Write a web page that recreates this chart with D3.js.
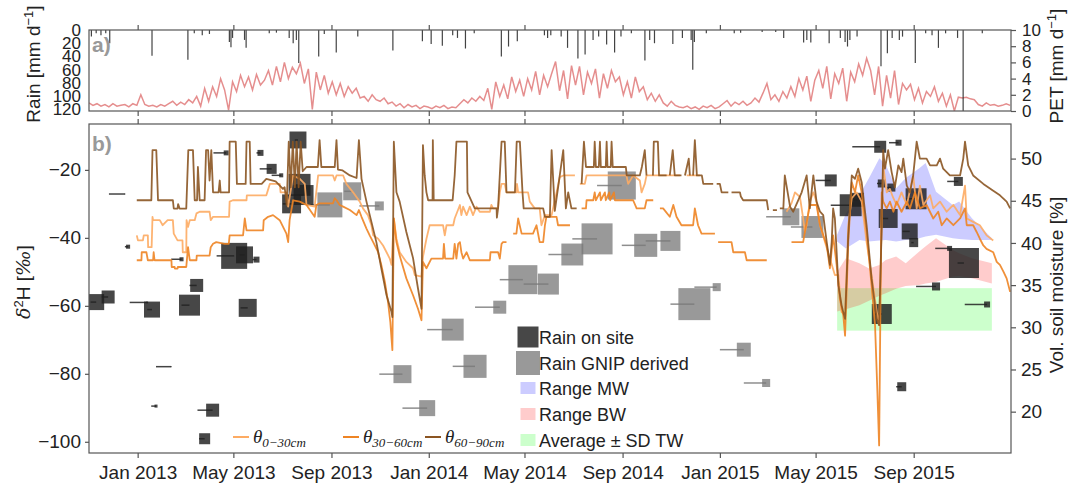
<!DOCTYPE html>
<html>
<head>
<meta charset="utf-8">
<script src="https://cdn.jsdelivr.net/npm/d3@7"></script>
<style>
  body { margin: 0; background: #fff; }
  text { font-family: "Liberation Sans", Arial, sans-serif; }
</style>
</head>
<body>
<div id="chart"></div>
<script>
// ---- data ----
const xTicks = ["2013-01-01","2013-05-01","2013-09-01","2014-01-01","2014-05-01","2014-09-01","2015-01-01","2015-05-01","2015-09-01"];
const xTickLabels = ["Jan 2013","May 2013","Sep 2013","Jan 2014","May 2014","Sep 2014","Jan 2015","May 2015","Sep 2015"];
const rainTicks = [0, 20, 40, 60, 80, 100, 120];
const petTicks = [0, 2, 4, 6, 8, 10];
const isoTicks = [-100, -80, -60, -40, -20];
const soilTicks = [20, 25, 30, 35, 40, 45, 50];

// PET [mm/d], one value every 5 days from 2012-11-01
const petStart = "2012-11-01", petStepDays = 5;
const petValues = [1.0,0.7,0.9,0.6,0.8,0.5,0.9,0.6,0.7,0.8,0.5,0.9,0.7,2.0,0.8,0.6,0.7,0.5,0.8,0.6,
  0.9,1.2,0.7,1.1,0.8,1.4,1.0,1.8,0.6,2.8,1.2,3.0,1.8,4.0,2.6,0.1,3.6,2.4,4.4,3.0,4.2,2.6,4.5,3.2,3.8,
  5.0,3.2,5.5,3.6,6.0,4.0,5.4,4.6,5.9,3.4,5.2,0.2,4.8,2.6,4.4,2.2,3.6,2.0,3.4,1.8,3.0,2.2,2.8,1.6,
  1.8,1.2,2.0,1.4,1.2,1.6,0.9,1.1,0.6,0.9,0.4,0.8,0.5,0.7,0.3,0.6,0.5,0.3,0.6,0.4,0.7,0.3,0.5,0.4,
  0.9,1.4,1.0,1.6,1.2,1.8,1.3,2.8,0.2,3.6,1.8,3.2,1.5,4.2,2.4,3.8,1.8,4.0,2.6,4.9,2.0,4.4,3.0,4.6,
  6.1,2.5,5.0,1.5,5.6,3.2,5.5,2.0,4.8,3.4,5.2,1.6,4.6,2.8,5.0,3.6,4.2,2.0,3.6,1.6,4.2,2.4,3.0,1.4,2.2,1.2,2.0,
  1.0,0.6,1.2,0.7,0.5,0.4,0.6,0.3,0.5,0.2,0.6,0.4,0.7,0.3,0.5,0.9,1.3,0.6,1.1,0.8,1.2,0.7,1.0,
  1.6,1.1,2.2,3.4,1.4,2.0,1.2,2.4,1.6,3.0,1.8,4.0,2.6,4.3,1.2,3.8,5.0,2.8,5.5,1.5,4.6,3.4,5.3,1.2,4.8,3.6,
  5.8,4.4,6.5,5.0,2.0,5.5,0.6,4.4,1.6,5.0,0.8,3.4,2.6,3.3,1.4,2.8,1.0,2.4,1.8,3.0,1.2,2.2,0.6,
  2.0,0.0,1.7,1.6,1.7,1.5,1.4,0.8,0.6,1.0,0.7,0.8,0.6,0.7,0.9,0.7];

// daily rain events [date, mm]
const rainEvents = [
  ["2012-11-04",10],["2012-11-10",5],["2012-11-16",8],["2012-11-22",5],["2012-11-27",20],
  ["2013-01-19",39],["2013-03-05",45],["2013-03-13",5],["2013-03-23",8],["2013-04-01",6],
  ["2013-04-26",18],["2013-04-28",26],["2013-04-30",12],["2013-05-15",15],["2013-05-17",27],
  ["2013-06-15",5],["2013-06-24",4],["2013-07-10",12],["2013-07-15",20],["2013-07-19",15],
  ["2013-07-22",50],["2013-08-16",40],["2013-08-23",6],["2013-09-07",34],["2013-10-04",10],
  ["2013-11-17",31],["2013-12-24",17],["2014-01-04",21],["2014-01-18",24],["2014-01-31",8],
  ["2014-02-06",12],["2014-02-16",28],["2014-02-27",5],["2014-04-02",40],["2014-04-11",25],
  ["2014-04-22",17],["2014-05-26",8],["2014-05-30",12],["2014-06-03",8],["2014-06-16",10],
  ["2014-06-24",27],["2014-07-07",43],["2014-07-16",37],["2014-07-26",15],["2014-08-02",10],
  ["2014-08-12",22],["2014-08-22",34],["2014-08-30",10],["2014-09-12",5],["2014-09-29",46],
  ["2014-10-05",15],["2014-10-11",20],["2014-11-03",21],["2014-11-15",12],["2014-11-26",15],
  ["2014-11-28",60],["2014-11-30",18],["2014-12-15",5],["2015-01-19",5],["2015-01-27",4],
  ["2015-02-23",3],["2015-03-12",3],["2015-03-22",12],["2015-04-16",19],["2015-04-20",15],
  ["2015-04-25",19],["2015-05-18",20],["2015-06-01",12],["2015-06-07",18],["2015-06-10",25],
  ["2015-06-13",15],["2015-06-22",10],["2015-07-22",55],["2015-07-30",35],["2015-08-05",12],
  ["2015-08-14",15],["2015-08-18",10],["2015-09-03",50],["2015-09-16",5],["2015-09-24",8],
  ["2015-10-02",27],["2015-10-11",5],["2015-10-26",12],["2015-11-02",125],["2015-11-26",5]
];

// isotope samples [start, end, d2H, rain amount mm]
const isoOnSite = [
  ["2012-11-03","2012-11-10",-58.9,25],["2012-11-17","2012-11-25",-57.4,16.5],
  ["2012-11-26","2012-12-16",-27.1,0.1],["2012-12-16","2012-12-20",-42.6,1.6],
  ["2012-12-22","2013-01-13",-59.0,0.3],["2013-01-13","2013-01-19",-61.1,25],
  ["2013-01-24","2013-02-12",-77.9,0.1],["2013-01-18","2013-01-24",-89.5,0.9],
  ["2013-02-12","2013-02-25",-46.3,1.6],["2013-02-25","2013-03-07",-59.8,43],
  ["2013-03-07","2013-03-16",-54.0,16.5],["2013-03-19","2013-03-26",-99.1,11.8],
  ["2013-03-17","2013-04-05",-90.7,16.5],["2013-04-10","2013-05-02",-45.3,66],
  ["2013-05-09","2013-05-15",-45.0,28],["2013-05-25","2013-05-30",-46.4,3.5],
  ["2013-05-10","2013-05-19",-60.6,31.6],["2013-04-06","2013-04-22",-15.0,2.4],
  ["2013-05-30","2013-06-04",-15.0,3.5],["2013-06-03","2013-06-18",-19.7,9.8],
  ["2013-06-18","2013-06-30",-21.6,1.6],["2013-07-17","2013-07-21",-11.2,28],
  ["2013-07-18","2013-07-23",-24.4,47],["2013-07-23","2013-07-28",-27.4,39],
  ["2013-07-02","2013-07-13",-30.0,35],["2015-05-01","2015-05-20",-23.1,14],
  ["2015-05-20","2015-06-14",-30.4,47],["2015-06-14","2015-06-22",-28.8,19],
  ["2015-06-16","2015-07-21",-13.2,14],["2015-08-01","2015-08-13",-12.0,3.5],
  ["2015-07-17","2015-07-23",-24.0,6.3],["2015-07-30","2015-08-04",-25.2,6.3],
  ["2015-07-23","2015-07-31",-34.3,35],["2015-08-18","2015-08-27",-38.1,25],
  ["2015-08-23","2015-09-04",-28.5,43],["2015-08-29","2015-09-01",-41.4,7.9],
  ["2015-10-13","2015-10-27",-23.4,7.9],["2015-09-28","2015-10-16",-43.1,2.4],
  ["2015-10-26","2015-11-03",-47.4,88],["2015-09-04","2015-09-29",-54.3,6.3],
  ["2015-11-04","2015-12-02",-59.6,3.5],["2015-07-14","2015-07-23",-62.4,39],
  ["2015-08-10","2015-08-17",-83.8,7.9]
];
const isoGnip = [
  ["2013-08-01","2013-08-30",-30.3,61],["2013-09-17","2013-09-27",-26.3,31.6],
  ["2013-10-06","2013-10-31",-30.6,7.9],["2013-10-31","2013-11-29",-80.1,31.6],
  ["2013-11-29","2013-12-30",-90.1,25],["2013-12-30","2014-01-31",-67.0,47],
  ["2014-01-31","2014-02-28",-77.8,52],["2014-02-28","2014-03-31",-60.4,16.5],
  ["2014-03-31","2014-04-29",-52.3,82],["2014-04-30","2014-05-31",-53.6,43],
  ["2014-05-31","2014-06-30",-44.9,47],["2014-06-30","2014-07-31",-40.3,94],
  ["2014-07-31","2014-08-31",-24.6,77],["2014-08-31","2014-09-30",-42.2,52],
  ["2014-09-30","2014-10-31",-40.9,39],["2014-10-31","2014-11-30",-59.5,100],
  ["2014-11-30","2014-12-28",-54.5,6.3],["2015-01-01","2015-01-31",-72.9,19],
  ["2015-01-31","2015-02-28",-82.7,6.3],["2015-02-28","2015-03-31",-33.8,28],
  ["2015-03-31","2015-04-27",-36.8,47]
];

// water ranges (d2H)
const rangeDates = ["2015-05-28","2015-06-08","2015-06-25","2015-07-07","2015-07-20","2015-07-28","2015-08-10",
  "2015-08-22","2015-09-08","2015-09-16","2015-09-29","2015-10-20","2015-10-28","2015-11-13","2015-12-08"];
const mwUpper = [-39.1,-32.8,-27.4,-22.4,-16.6,-18.5,-25.4,-22.4,-19.5,-18.0,-26.4,-30.3,-29.3,-34.2,-40.1];
const mwLower = [-41.1,-43.1,-40.6,-41.1,-40.8,-40.6,-41.1,-40.6,-40.1,-39.6,-39.1,-40.1,-40.3,-40.6,-40.6];
const bwUpper = [-50.0,-46.0,-47.5,-49.0,-48.0,-46.5,-45.5,-47.5,-44.0,-42.5,-40.1,-43.6,-44.5,-46.0,-47.5];
const bwLower = [-61.7,-61.0,-59.8,-58.5,-57.0,-56.3,-55.0,-54.2,-53.9,-53.4,-53.0,-51.4,-51.2,-51.9,-53.4];
const twDates = ["2015-05-28","2015-12-08"];
const twMean = -61.05, twSd = 6.25;

// soil moisture [decimal year, vol %], null = gap
const soil0_30 = [[2012.997,40.9],[2013.001,40.3],[2013.018,40.3],[2013.021,40.9],[2013.035,40.9],[2013.036,39.5],[2013.048,39.5],
  [2013.051,43.1],[2013.053,42.7],[2013.076,42.7],[2013.086,42.1],[2013.103,42.7],[2013.121,42.7],[2013.124,41.1],[2013.137,40.3],
  [2013.154,40.3],[2013.155,38.9],[2013.167,38.9],[2013.168,42.7],[2013.173,41.9],[2013.179,42.7],[2013.196,42.7],[2013.202,43.5],
  [2013.213,43.7],[2013.247,43.7],[2013.251,42.7],[2013.259,43.1],[2013.314,43.1],[2013.316,44.9],[2013.327,45.06],[2013.374,45.06],
  [2013.375,45.65],[2013.442,45.65],[2013.447,46.2],[2013.454,47.0],[2013.488,47.0],[2013.491,46.0],[2013.511,46.0],[2013.517,44.3],
  [2013.534,48.0],[2013.557,47.6],[2013.574,47.0],[2013.580,44.5],[2013.608,44.3],[2013.620,48.0],[2013.671,48.0],[2013.677,47.4],
  [2013.683,48.0],[2013.706,48.0],[2013.717,47.0],[2013.740,46.0],[2013.763,44.9],[2013.774,44.1],[2013.791,43.3],[2013.803,42.1],
  [2013.809,40.9],[2013.826,40.5],[2013.843,39.7],[2013.855,38.9],[2013.866,38.15],[2013.872,37.4],[2013.880,42.9],[2013.889,40.5],
  [2013.900,38.9],[2013.923,37.75],[2013.946,37.0],[2013.952,36.2],[2013.975,36.0],[2013.980,38.35],[2013.992,40.5],[2014.003,42.1],
  [2014.049,42.1],[2014.055,40.9],[2014.061,42.1],[2014.084,42.1],[2014.089,42.9],[2014.107,44.5],[2014.112,43.3],[2014.118,44.3],
  [2014.130,43.3],[2014.141,44.3],[2014.152,43.3],[2014.164,44.3],[2014.175,43.7],[2014.210,43.7],[2014.215,44.5],[2014.221,44.1],
  [2014.238,44.1],[2014.244,46.0],[2014.250,47.0],[2014.261,47.0],[2014.267,46.0],[2014.301,46.0],[2014.303,47.0],[2014.307,46.0],
  [2014.341,46.0],[2014.347,44.9],[2014.364,44.1],[2014.381,44.1],[2014.387,42.1],[2014.399,43.3],[2014.422,43.3],[2014.427,44.1],
  [2014.439,46.0],[2014.450,47.8],[2014.462,48.0],[2014.502,48.0],[2014.510,null],[2014.519,47.0],[2014.536,47.0],[2014.542,48.0],
  [2014.645,48.0],[2014.679,48.0],[2014.685,47.0],[2014.702,48.0],[2014.725,47.4],[2014.731,46.0],[2014.742,47.0],[2014.748,48.0],
  [2014.794,48.0],[2014.840,48.0],[2014.863,48.0],[2014.875,null],[2014.886,48.0],[2014.931,48.0],[2014.940,null],
  [2015.229,43.7],[2015.246,44.7],[2015.258,46.0],[2015.275,45.45],[2015.286,42.9],[2015.292,41.3],[2015.298,42.1],[2015.309,44.9],
  [2015.321,46.0],[2015.332,44.9],[2015.344,42.1],[2015.361,40.1],[2015.378,38.15],[2015.395,36.2],[2015.407,36.2],[2015.418,31.8],
  [2015.430,31.5],[2015.441,42.1],[2015.453,45.3],[2015.470,46.0],[2015.487,44.9],[2015.504,40.1],[2015.521,36.2],[2015.539,31.8],
  [2015.547,30.25],[2015.556,42.5],[2015.561,49.2],[2015.573,46.0],[2015.584,46.4],[2015.596,45.3],[2015.607,44.5],[2015.624,46.0],
  [2015.642,44.5],[2015.664,48.0],[2015.676,44.1],[2015.687,46.8],[2015.699,44.5],[2015.722,45.65],[2015.733,44.1],[2015.756,44.9],
  [2015.779,43.7],[2015.802,44.5],[2015.825,43.3],[2015.842,46.8],[2015.848,42.9],[2015.870,42.5],[2015.893,42.1],[2015.916,40.9],
  [2015.939,40.3]];

const soil30_60 = [[2012.997,37.95],[2013.013,37.95],[2013.014,38.9],[2013.030,38.9],[2013.035,37.95],[2013.053,37.95],[2013.055,38.9],
  [2013.058,37.95],[2013.116,37.95],[2013.117,37.15],[2013.127,37.15],[2013.128,36.96],[2013.137,36.96],[2013.138,37.15],[2013.167,37.15],
  [2013.168,37.55],[2013.173,39.5],[2013.179,37.95],[2013.202,37.95],[2013.203,38.5],[2013.247,38.5],[2013.251,39.5],[2013.259,39.9],
  [2013.270,40.1],[2013.299,39.9],[2013.313,39.9],[2013.316,40.9],[2013.362,40.9],[2013.368,42.9],[2013.374,41.5],[2013.431,41.5],
  [2013.433,42.7],[2013.448,43.1],[2013.465,43.3],[2013.488,42.7],[2013.511,41.1],[2013.517,40.1],[2013.522,42.7],[2013.534,45.06],
  [2013.557,44.9],[2013.580,44.5],[2013.608,43.1],[2013.614,44.5],[2013.625,44.7],[2013.671,44.7],[2013.677,45.3],[2013.683,45.06],
  [2013.694,44.5],[2013.706,44.3],[2013.729,43.9],[2013.752,43.3],[2013.760,43.9],[2013.769,43.1],[2013.786,41.7],[2013.797,40.9],
  [2013.809,40.1],[2013.826,38.9],[2013.837,37.4],[2013.849,35.4],[2013.860,33.0],[2013.868,30.6],[2013.875,27.3],[2013.880,42.9],
  [2013.889,40.1],[2013.900,38.5],[2013.923,35.8],[2013.946,33.8],[2013.963,32.2],[2013.975,30.84],[2013.980,37.75],[2013.992,37.0],
  [2014.009,38.15],[2014.049,38.15],[2014.052,39.9],[2014.056,38.15],[2014.084,38.15],[2014.089,39.9],[2014.095,38.15],[2014.101,39.9],
  [2014.107,40.1],[2014.112,38.9],[2014.118,38.15],[2014.130,38.9],[2014.141,37.95],[2014.210,37.95],[2014.212,38.9],[2014.238,38.9],
  [2014.244,38.15],[2014.250,39.9],[2014.255,40.1],[2014.267,40.1],[2014.278,null],[2014.290,41.1],[2014.301,41.1],[2014.307,42.9],
  [2014.319,41.1],[2014.358,41.1],[2014.370,42.1],[2014.381,40.1],[2014.393,40.1],[2014.399,42.1],[2014.404,43.1],[2014.439,43.1],
  [2014.444,42.1],[2014.485,42.1],[2014.505,null],[2014.525,44.1],[2014.540,44.1],[2014.542,45.06],[2014.565,45.06],[2014.570,46.0],
  [2014.574,45.06],[2014.588,46.0],[2014.591,45.06],[2014.605,46.0],[2014.608,45.06],[2014.620,46.0],[2014.623,45.06],[2014.636,46.0],
  [2014.639,45.06],[2014.702,45.06],[2014.714,44.1],[2014.742,44.1],[2014.748,45.06],[2014.771,45.06],[2014.782,null],[2014.794,44.1],
  [2014.805,44.1],[2014.828,43.1],[2014.840,44.5],[2014.851,43.1],[2014.868,42.1],[2014.908,42.1],[2014.914,44.1],[2014.925,42.1],
  [2014.937,41.1],[2014.983,41.1],[2014.988,null],[2014.994,40.1],[2015.040,40.1],[2015.046,38.9],[2015.086,38.9],[2015.092,37.95],
  [2015.161,37.95],[2015.200,null],[2015.246,40.1],[2015.286,40.1],[2015.292,41.3],[2015.309,44.5],[2015.332,44.5],[2015.344,42.1],
  [2015.367,39.7],[2015.378,37.0],[2015.389,40.9],[2015.401,37.4],[2015.412,33.4],[2015.424,31.4],[2015.430,29.0],[2015.441,40.1],
  [2015.453,47.2],[2015.464,46.0],[2015.475,48.0],[2015.487,46.0],[2015.504,41.3],[2015.521,35.0],[2015.533,30.25],[2015.541,22.35],
  [2015.547,16.0],[2015.552,34.2],[2015.556,46.0],[2015.561,44.9],[2015.573,44.1],[2015.584,44.9],[2015.596,43.7],[2015.607,44.9],
  [2015.624,43.7],[2015.642,44.9],[2015.653,44.1],[2015.670,46.0],[2015.687,44.1],[2015.710,44.5],[2015.733,42.9],[2015.750,43.7],
  [2015.762,42.1],[2015.779,42.9],[2015.802,42.1],[2015.825,42.9],[2015.842,44.1],[2015.848,42.1],[2015.870,42.1],[2015.882,41.3],
  [2015.893,40.5],[2015.905,39.7],[2015.916,39.3],[2015.939,38.9],[2015.951,37.75],[2015.962,37.4],[2015.974,36.6],[2015.985,35.8],
  [2015.997,34.2]];

const soil60_90 = [[2012.997,45.06],[2013.047,45.06],[2013.051,51.0],[2013.064,51.0],[2013.070,45.06],[2013.121,45.06],[2013.124,44.08],
  [2013.137,44.08],[2013.139,44.6],[2013.144,44.08],[2013.167,44.08],[2013.174,51.0],[2013.190,51.0],[2013.196,45.06],[2013.204,45.06],
  [2013.207,49.0],[2013.213,45.06],[2013.230,45.06],[2013.235,51.0],[2013.242,51.0],[2013.247,47.4],[2013.253,51.0],[2013.259,46.0],
  [2013.278,46.0],[2013.282,47.4],[2013.285,46.0],[2013.314,46.0],[2013.316,52.0],[2013.337,52.0],[2013.341,47.0],[2013.371,47.0],
  [2013.374,52.0],[2013.385,52.0],[2013.388,47.0],[2013.426,47.0],[2013.442,47.6],[2013.474,47.3],[2013.499,46.4],[2013.505,46.6],
  [2013.512,44.5],[2013.519,52.0],[2013.526,46.6],[2013.533,52.0],[2013.540,46.6],[2013.546,52.0],[2013.553,46.6],[2013.560,52.0],
  [2013.567,48.5],[2013.580,49.0],[2013.619,49.0],[2013.625,52.2],[2013.631,49.0],[2013.677,49.0],[2013.683,52.2],[2013.688,48.7],
  [2013.704,48.6],[2013.729,48.0],[2013.752,47.7],[2013.760,52.2],[2013.769,47.6],[2013.774,46.8],[2013.786,44.9],[2013.803,42.5],
  [2013.820,40.1],[2013.837,37.0],[2013.855,33.8],[2013.872,31.8],[2013.875,31.2],[2013.880,52.0],[2013.889,46.0],[2013.900,44.9],
  [2013.923,41.3],[2013.946,38.2],[2013.963,34.6],[2013.975,32.2],[2013.980,51.6],[2013.986,48.0],[2013.992,46.0],[2013.998,45.06],
  [2014.013,45.06],[2014.014,52.2],[2014.017,45.06],[2014.082,45.06],[2014.089,48.0],[2014.095,52.0],[2014.131,52.0],[2014.133,46.0],
  [2014.158,44.1],[2014.233,44.1],[2014.234,43.0],[2014.238,44.1],[2014.250,52.0],[2014.261,52.0],[2014.267,46.0],[2014.296,46.0],
  [2014.302,52.0],[2014.313,52.0],[2014.322,46.0],[2014.326,44.1],[2014.393,44.1],[2014.399,43.1],[2014.416,43.1],[2014.422,51.0],
  [2014.433,43.8],[2014.450,48.0],[2014.462,51.0],[2014.471,44.1],[2014.479,46.0],[2014.490,44.1],[2014.508,44.1],[2014.515,null],
  [2014.525,47.0],[2014.533,52.0],[2014.540,49.0],[2014.567,49.0],[2014.570,52.0],[2014.574,49.0],[2014.584,49.0],[2014.588,52.0],
  [2014.591,49.0],[2014.608,49.0],[2014.611,52.0],[2014.614,49.0],[2014.625,49.0],[2014.628,52.0],[2014.632,49.0],[2014.677,49.0],
  [2014.680,48.0],[2014.725,48.0],[2014.732,49.0],[2014.742,51.0],[2014.748,48.0],[2014.760,null],[2014.770,48.0],[2014.773,52.0],
  [2014.787,52.0],[2014.791,48.0],[2014.817,48.0],[2014.822,null],[2014.828,48.0],[2014.838,51.0],[2014.845,48.0],[2014.868,48.0],
  [2014.874,null],[2014.880,48.0],[2014.893,50.0],[2014.897,48.0],[2014.902,null],[2014.908,48.0],[2014.914,52.2],[2014.921,48.0],
  [2014.938,48.0],[2014.943,47.0],[2014.977,47.0],[2014.983,null],[2014.989,47.0],[2015.000,47.0],[2015.006,46.0],[2015.029,46.0],
  [2015.035,null],[2015.040,46.0],[2015.069,46.0],[2015.072,45.5],[2015.080,45.06],[2015.161,45.06],[2015.166,43.9],[2015.170,null],
  [2015.182,43.9],[2015.196,43.9],[2015.200,null],[2015.206,44.1],[2015.218,44.1],[2015.223,48.0],[2015.241,44.3],[2015.252,43.7],
  [2015.281,46.0],[2015.298,48.0],[2015.309,44.1],[2015.321,48.0],[2015.332,44.9],[2015.344,43.7],[2015.355,43.3],[2015.367,40.1],
  [2015.378,37.4],[2015.384,40.1],[2015.389,44.1],[2015.395,42.9],[2015.407,35.0],[2015.418,32.6],[2015.430,31.0],[2015.441,40.9],
  [2015.453,48.0],[2015.464,47.6],[2015.475,48.8],[2015.487,47.2],[2015.504,42.1],[2015.521,35.8],[2015.539,31.0],[2015.547,30.25],
  [2015.556,42.1],[2015.561,51.0],[2015.567,48.8],[2015.578,51.0],[2015.590,48.4],[2015.601,46.6],[2015.613,49.2],[2015.624,48.4],
  [2015.630,50.0],[2015.642,46.8],[2015.653,46.0],[2015.664,48.0],[2015.676,52.0],[2015.687,50.0],[2015.710,50.0],[2015.722,49.2],
  [2015.745,49.2],[2015.756,50.0],[2015.767,48.8],[2015.790,48.0],[2015.825,48.0],[2015.836,50.0],[2015.842,52.0],[2015.853,49.2],
  [2015.870,48.0],[2015.905,47.0],[2015.939,46.2],[2015.962,45.65],[2015.985,44.9],[2015.997,44.1]];

// ---- layout ----
const W = 1069, H = 485;
const left = 89, right = 1011;
const topA = 30, botA = 111, topB = 124, botB = 453;
const axisColor = "#555", textColor = "#222";

const parse = d3.utcParse("%Y-%m-%d");
const fromYear = t => {
  const y = Math.floor(t), a = Date.UTC(y, 0, 1), b = Date.UTC(y + 1, 0, 1);
  return new Date(a + (t - y) * (b - a));
};

const x = d3.scaleUtc().domain([parse("2012-11-01"), parse("2016-01-01")]).range([left, right]);
const yRain = d3.scaleLinear().domain([0, 122.5]).range([topA, botA]);
const yPet = d3.scaleLinear().domain([0, 10]).range([botA, topA]);
const yIso = d3.scaleLinear().domain([-103.3, -6.5]).range([botB, topB]);
const ySoil = d3.scaleLinear().domain([15.1, 54.1]).range([botB, topB]);
const side = d3.scaleSqrt().domain([0, 100]).range([0, 32]);

const svg = d3.select("#chart").append("svg")
  .attr("width", W).attr("height", H)
  .style("font-family", "'Liberation Sans', Arial, sans-serif");

const defs = svg.append("defs");
defs.append("clipPath").attr("id", "clipA").append("rect")
  .attr("x", left).attr("y", topA).attr("width", right - left).attr("height", botA - topA);
defs.append("clipPath").attr("id", "clipB").append("rect")
  .attr("x", left).attr("y", topB).attr("width", right - left).attr("height", botB - topB);

// ---------- panel a ----------
const gA = svg.append("g").attr("clip-path", "url(#clipA)");

const petStartDate = parse(petStart);
const petData = petValues.map((v, i) => [d3.utcDay.offset(petStartDate, i * petStepDays), v]);
gA.append("path")
  .datum(petData)
  .attr("fill", "none")
  .attr("stroke", "#e07a7a")
  .attr("stroke-opacity", 0.85)
  .attr("stroke-width", 1.5)
  .attr("d", d3.line().x(d => x(d[0])).y(d => yPet(d[1])));

gA.append("g").selectAll("line")
  .data(rainEvents)
  .join("line")
    .attr("x1", d => x(parse(d[0]))).attr("x2", d => x(parse(d[0])))
    .attr("y1", yRain(0)).attr("y2", d => yRain(d[1]))
    .attr("stroke", "#222").attr("stroke-opacity", 0.85).attr("stroke-width", 1.2);

// frame + axes of panel a
svg.append("rect").attr("x", left).attr("y", topA).attr("width", right - left).attr("height", botA - topA)
  .attr("fill", "none").attr("stroke", axisColor).attr("stroke-width", 1.2);

const styleAxis = size => g => {
  g.select(".domain").remove();
  g.selectAll(".tick line").attr("stroke", axisColor).attr("stroke-width", 1.2);
  g.selectAll(".tick text").attr("fill", textColor).style("font-size", size + "px")
    .style("font-family", "'Liberation Sans', Arial, sans-serif");
};
const xTickDates = xTicks.map(parse);

svg.append("g").attr("transform", `translate(0,${topA})`)
  .call(d3.axisTop(x).tickValues(xTickDates).tickFormat("").tickSize(5)).call(styleAxis(19));
svg.append("g").attr("transform", `translate(0,${botA})`)
  .call(d3.axisBottom(x).tickValues(xTickDates).tickFormat("").tickSize(5)).call(styleAxis(19));
svg.append("g").attr("transform", `translate(${left},0)`)
  .call(d3.axisLeft(yRain).tickValues(rainTicks).tickSize(0).tickPadding(8)).call(styleAxis(17));
svg.append("g").attr("transform", `translate(${right},0)`)
  .call(d3.axisRight(yPet).tickValues(petTicks).tickSize(5).tickPadding(6)).call(styleAxis(17));

// ---------- panel b ----------
const gB = svg.append("g").attr("clip-path", "url(#clipB)");

// ranges of water pools
const rangeD = rangeDates.map(parse);
const band = (up, lo) => d3.area()
  .x((d, i) => x(rangeD[i]))
  .y0((d, i) => yIso(lo[i]))
  .y1((d, i) => yIso(up[i]))(rangeD);
gB.append("rect")
  .attr("x", x(parse(twDates[0])))
  .attr("width", x(parse(twDates[1])) - x(parse(twDates[0])))
  .attr("y", yIso(twMean + twSd))
  .attr("height", yIso(twMean - twSd) - yIso(twMean + twSd))
  .attr("fill", "rgb(0,255,0)").attr("fill-opacity", 0.2);
gB.append("path").attr("d", band(bwUpper, bwLower)).attr("fill", "rgb(255,0,0)").attr("fill-opacity", 0.2);
gB.append("path").attr("d", band(mwUpper, mwLower)).attr("fill", "rgb(0,0,255)").attr("fill-opacity", 0.2);

// isotope samples
const drawSamples = (data, lineColor, fill, opacity) => {
  const g = gB.append("g");
  g.selectAll("rect")
    .data(data)
    .join("rect")
      .attr("x", d => x(parse(d[1])) - side(d[3]) / 2)
      .attr("y", d => yIso(d[2]) - side(d[3]) / 2)
      .attr("width", d => side(d[3]))
      .attr("height", d => side(d[3]))
      .attr("fill", fill).attr("fill-opacity", opacity);
  g.selectAll("line")
    .data(data)
    .join("line")
      .attr("x1", d => x(parse(d[0]))).attr("x2", d => x(parse(d[1])))
      .attr("y1", d => yIso(d[2])).attr("y2", d => yIso(d[2]))
      .attr("stroke", lineColor).attr("stroke-width", 1.5).attr("stroke-opacity", 0.85);
};
drawSamples(isoGnip, "#7a7a7a", "#777", 0.75);
drawSamples(isoOnSite, "#222", "#1e1e1e", 0.82);

// soil moisture
const soilLine = d3.line()
  .defined(d => d[1] != null)
  .x(d => x(fromYear(d[0])))
  .y(d => ySoil(d[1]));
const soilSeries = [
  {data: soil0_30, color: "#fdab63", label: "0\u221230cm"},
  {data: soil30_60, color: "#ee8424", label: "30\u221260cm"},
  {data: soil60_90, color: "#8b5522", label: "60\u221290cm"}
];
soilSeries.forEach(s => {
  gB.append("path").datum(s.data)
    .attr("fill", "none").attr("stroke", s.color).attr("stroke-width", 1.8)
    .attr("stroke-opacity", 0.9).attr("stroke-linejoin", "round")
    .attr("d", soilLine);
});

// frame + axes of panel b
svg.append("rect").attr("x", left).attr("y", topB).attr("width", right - left).attr("height", botB - topB)
  .attr("fill", "none").attr("stroke", axisColor).attr("stroke-width", 1.2);
svg.append("g").attr("transform", `translate(0,${topB})`)
  .call(d3.axisTop(x).tickValues(xTickDates).tickFormat("").tickSize(5)).call(styleAxis(19));
svg.append("g").attr("transform", `translate(0,${botB})`)
  .call(d3.axisBottom(x).tickValues(xTickDates).tickFormat((d, i) => xTickLabels[i]).tickSize(5).tickPadding(8))
  .call(styleAxis(19));
svg.append("g").attr("transform", `translate(${left},0)`)
  .call(d3.axisLeft(yIso).tickValues(isoTicks).tickSize(4).tickPadding(4)).call(styleAxis(19));
svg.append("g").attr("transform", `translate(${right},0)`)
  .call(d3.axisRight(ySoil).tickValues(soilTicks).tickSize(5).tickPadding(5)).call(styleAxis(19));

// ---------- labels ----------
const vLabel = (xPos, yPos, parts) => {
  const t = svg.append("text")
    .attr("transform", `translate(${xPos},${yPos}) rotate(-90)`)
    .attr("text-anchor", "middle").attr("fill", textColor).style("font-size", "19px");
  parts.forEach(p => {
    const ts = t.append("tspan").text(p.t);
    if (p.sup) ts.attr("dy", -7).style("font-size", "13px");
    if (p.back) ts.attr("dy", 7);
  });
  return t;
};
vLabel(40, 64, [{t: "Rain [mm d"}, {t: "\u22121", sup: true}, {t: "]", back: true}]);
vLabel(1063, 66, [{t: "PET [mm d"}, {t: "\u22121", sup: true}, {t: "]", back: true}]);
vLabel(1063, 285, [{t: "Vol. soil moisture [%]"}]);
const dl = svg.append("text")
  .attr("transform", "translate(30,282) rotate(-90)")
  .attr("text-anchor", "middle").attr("fill", textColor).style("font-size", "19px");
dl.append("tspan").text("\u03b4").style("font-family", "'DejaVu Serif', serif").style("font-style", "italic");
dl.append("tspan").text("2").attr("dy", -7).style("font-size", "13px");
dl.append("tspan").text("H [").attr("dy", 7);
dl.append("tspan").text("\u2030").style("font-family", "'DejaVu Serif', serif").style("font-style", "italic");
dl.append("tspan").text("]");

svg.append("text").attr("x", 92).attr("y", 52).text("a)")
  .attr("fill", "#999").style("font-size", "21px").style("font-weight", "bold");
svg.append("text").attr("x", 92).attr("y", 151).text("b)")
  .attr("fill", "#999").style("font-size", "21px").style("font-weight", "bold");

// ---------- legends ----------
const leg = svg.append("g");
const legItems = [
  {label: "Rain on site", y: 337, sz: 21, fill: "#1e1e1e", op: 0.82},
  {label: "Rain GNIP derived", y: 363, sz: 24, fill: "#777", op: 0.75},
  {label: "Range MW", y: 388, w: 15, h: 12, fill: "rgb(0,0,255)", op: 0.2},
  {label: "Range BW", y: 414, w: 15, h: 12, fill: "rgb(255,0,0)", op: 0.2},
  {label: "Average \u00b1 SD TW", y: 440, w: 15, h: 12, fill: "rgb(0,255,0)", op: 0.2}
];
legItems.forEach(it => {
  const w = it.sz || it.w, h = it.sz || it.h;
  leg.append("rect").attr("x", 528 - w / 2).attr("y", it.y - h / 2).attr("width", w).attr("height", h)
    .attr("fill", it.fill).attr("fill-opacity", it.op);
  leg.append("text").attr("x", 539).attr("y", it.y + 6.5).text(it.label)
    .attr("fill", textColor).style("font-size", "18px");
});

const soilLegX = [233, 343, 425];
soilSeries.forEach((s, i) => {
  const x0 = soilLegX[i];
  leg.append("line").attr("x1", x0).attr("x2", x0 + 16).attr("y1", 437).attr("y2", 437)
    .attr("stroke", s.color).attr("stroke-width", 2);
  const t = leg.append("text").attr("x", x0 + 20).attr("y", 443).attr("fill", textColor)
    .style("font-family", "'Liberation Serif', serif").style("font-style", "italic");
  t.append("tspan").text("\u03b8").style("font-size", "19px");
  t.append("tspan").text(s.label).attr("dy", 4).style("font-size", "13px");
});
</script>
</body>
</html>
